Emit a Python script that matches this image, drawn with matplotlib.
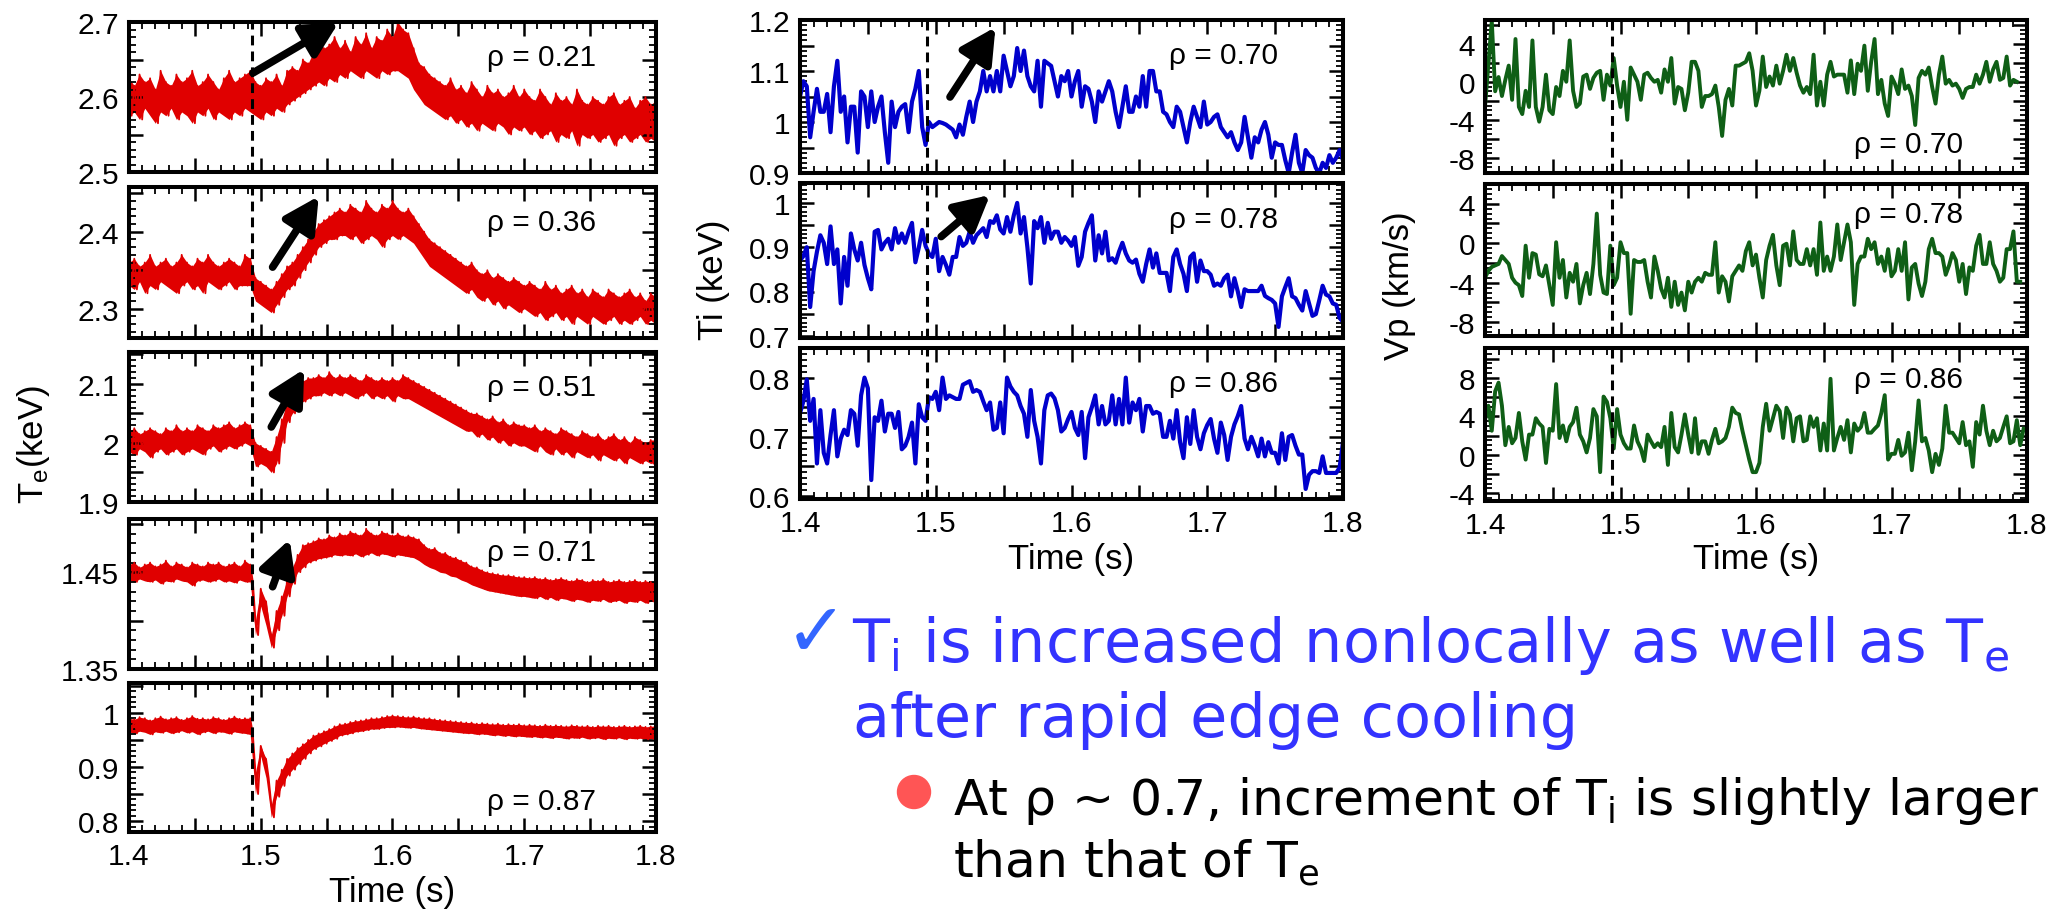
import numpy as np
import matplotlib as mp
mp.use('Agg')
import matplotlib.pyplot as plt
import matplotlib.patches as mpatches
from matplotlib.ticker import MultipleLocator, FuncFormatter, NullFormatter

plt.rcParams['font.family'] = ['Liberation Sans', 'DejaVu Sans']
plt.rcParams['mathtext.default'] = 'regular'

W, H = 2067, 912
T0 = 1.4
DT_RED = 0.004      # sampling of the Te envelopes
DT = 0.0025         # sampling of Ti and Vp
T_SWITCH = 1.4935   # edge cooling time (dashed line)

RED = '#E00000'
BLUE = '#0000CC'
GREEN = '#0F5F16'

# ---------------- Te (upper / lower edges of the noisy band) ----------------
te021_hi = [2.625, 2.615, 2.63, 2.62, 2.625, 2.61, 2.635, 2.62, 2.615, 2.63, 2.62, 2.625, 2.635, 2.615,
            2.62, 2.63, 2.62, 2.61, 2.625, 2.635, 2.62, 2.625, 2.63,
            2.635, 2.62, 2.615, 2.625, 2.62, 2.63, 2.615, 2.635,
            2.64, 2.635, 2.65, 2.645, 2.66,
            2.675, 2.665, 2.67, 2.68, 2.665,
            2.675, 2.66, 2.68, 2.67, 2.685, 2.665, 2.68, 2.675, 2.69, 2.68,
            2.70, 2.69, 2.685,
            2.665, 2.645, 2.64, 2.63,
            2.625, 2.62, 2.615, 2.625, 2.61,
            2.615, 2.605, 2.62, 2.61, 2.6, 2.615, 2.605, 2.61, 2.6, 2.605, 2.615, 2.6, 2.61,
            2.6, 2.595, 2.61, 2.6, 2.59, 2.605, 2.595, 2.6, 2.59, 2.61, 2.595, 2.59, 2.6, 2.595,
            2.59, 2.6, 2.605, 2.59, 2.595, 2.6, 2.585, 2.595, 2.6, 2.59, 2.595]
te021_lo = [2.575, 2.58, 2.57, 2.585, 2.575, 2.565, 2.58, 2.575, 2.585, 2.57, 2.58, 2.575, 2.565, 2.58,
            2.575, 2.585, 2.57, 2.58, 2.575, 2.57, 2.58, 2.575, 2.585,
            2.58, 2.575, 2.57, 2.58, 2.575, 2.585, 2.58, 2.59,
            2.595, 2.6, 2.605, 2.61, 2.615,
            2.62, 2.615, 2.625, 2.62, 2.63,
            2.625, 2.635, 2.63, 2.625, 2.635, 2.63, 2.625, 2.635, 2.63, 2.635,
            2.635, 2.63, 2.625,
            2.61, 2.60, 2.59, 2.585,
            2.58, 2.575, 2.57, 2.575, 2.565,
            2.57, 2.56, 2.565, 2.555, 2.565, 2.56, 2.555, 2.565, 2.56, 2.55, 2.56, 2.555, 2.56,
            2.55, 2.555, 2.545, 2.55, 2.555, 2.54, 2.55, 2.545, 2.555, 2.535, 2.55, 2.545, 2.55, 2.54,
            2.545, 2.55, 2.535, 2.545, 2.55, 2.54, 2.545, 2.55, 2.54, 2.545, 2.54]

te036_hi = [2.36, 2.365, 2.355, 2.36, 2.37, 2.355, 2.36, 2.365, 2.355, 2.36, 2.37, 2.36, 2.355, 2.365,
            2.36, 2.37, 2.36, 2.355, 2.36, 2.365, 2.36, 2.355, 2.37,
            2.365, 2.34, 2.335, 2.33, 2.325, 2.335, 2.345, 2.355,
            2.36, 2.37, 2.38, 2.39, 2.40,
            2.41, 2.415, 2.42, 2.425, 2.43,
            2.425, 2.435, 2.43, 2.425, 2.44, 2.43, 2.425, 2.435, 2.43, 2.44, 2.43, 2.425, 2.43,
            2.42, 2.41, 2.40, 2.39, 2.385, 2.38, 2.375, 2.37, 2.365,
            2.36, 2.355, 2.36, 2.35, 2.345, 2.35, 2.34, 2.345, 2.34, 2.335, 2.34, 2.335, 2.33,
            2.335, 2.33, 2.325, 2.335, 2.325, 2.33, 2.32, 2.325, 2.33, 2.32, 2.325, 2.315, 2.325,
            2.32, 2.315, 2.325, 2.32, 2.315, 2.32, 2.325, 2.315, 2.32, 2.31, 2.32, 2.315]
te036_lo = [2.33, 2.325, 2.335, 2.32, 2.33, 2.325, 2.335, 2.33, 2.325, 2.32, 2.33, 2.335, 2.325, 2.33,
            2.32, 2.335, 2.33, 2.325, 2.33, 2.335, 2.325, 2.33, 2.33,
            2.33, 2.31, 2.305, 2.30, 2.295, 2.305, 2.315, 2.325,
            2.33, 2.34, 2.35, 2.36, 2.37,
            2.38, 2.385, 2.39, 2.39, 2.395,
            2.395, 2.39, 2.395, 2.385, 2.39, 2.395, 2.39, 2.38, 2.39, 2.395, 2.39, 2.395, 2.39,
            2.385, 2.375, 2.365, 2.355, 2.35, 2.345, 2.34, 2.335, 2.33,
            2.325, 2.32, 2.325, 2.315, 2.31, 2.315, 2.305, 2.31, 2.30, 2.305, 2.30, 2.295, 2.30,
            2.295, 2.29, 2.295, 2.285, 2.29, 2.295, 2.285, 2.29, 2.28, 2.29, 2.285, 2.28, 2.29,
            2.285, 2.28, 2.285, 2.29, 2.28, 2.285, 2.28, 2.285, 2.29, 2.28, 2.285, 2.28]

te051_hi = [2.02, 2.025, 2.015, 2.02, 2.025, 2.02, 2.015, 2.025, 2.02, 2.03, 2.02, 2.025, 2.02, 2.03,
            2.025, 2.02, 2.03, 2.025, 2.03, 2.035, 2.025, 2.03, 2.035,
            2.03, 2.0, 1.995, 1.99, 1.985, 2.01, 2.04, 2.07,
            2.085, 2.095, 2.105, 2.11, 2.11,
            2.115, 2.11, 2.12, 2.11, 2.115,
            2.11, 2.115, 2.11, 2.105, 2.115, 2.11, 2.105, 2.11, 2.105, 2.11, 2.105, 2.115, 2.11,
            2.105, 2.1, 2.095, 2.09, 2.085, 2.08, 2.075, 2.07, 2.065,
            2.06, 2.055, 2.05, 2.05, 2.045, 2.04, 2.045, 2.035, 2.04, 2.03, 2.035, 2.03, 2.03,
            2.025, 2.03, 2.02, 2.025, 2.02, 2.015, 2.025, 2.02, 2.015, 2.01, 2.02, 2.015, 2.01,
            2.015, 2.005, 2.01, 2.015, 2.005, 2.01, 2.0, 2.01, 2.005, 2.0, 2.005, 2.005]
te051_lo = [1.985, 1.98, 1.99, 1.985, 1.975, 1.985, 1.99, 1.98, 1.985, 1.99, 1.98, 1.985, 1.99, 1.985,
            1.98, 1.99, 1.995, 1.985, 1.99, 1.995, 1.99, 1.995, 2.0,
            1.995, 1.96, 1.965, 1.96, 1.95, 1.965, 2.0, 2.035,
            2.05, 2.06, 2.07, 2.075, 2.08,
            2.08, 2.085, 2.08, 2.085, 2.08,
            2.085, 2.08, 2.075, 2.08, 2.085, 2.075, 2.08, 2.075, 2.08, 2.07, 2.08, 2.075, 2.075,
            2.07, 2.065, 2.06, 2.055, 2.05, 2.045, 2.04, 2.035, 2.03,
            2.025, 2.02, 2.02, 2.01, 2.015, 2.005, 2.01, 2.0, 2.005, 1.995, 2.0, 1.995, 1.995,
            1.99, 1.985, 1.995, 1.985, 1.98, 1.99, 1.98, 1.985, 1.975, 1.985, 1.98, 1.975, 1.98,
            1.97, 1.98, 1.975, 1.97, 1.975, 1.965, 1.975, 1.97, 1.965, 1.97, 1.965, 1.97]

te071_hi = [1.458, 1.46, 1.455, 1.458, 1.46, 1.456, 1.458, 1.462, 1.456, 1.46, 1.458, 1.455, 1.46, 1.458,
            1.456, 1.46, 1.458, 1.46, 1.456, 1.458, 1.46, 1.456, 1.462,
            1.458, 1.40, 1.433, 1.42, 1.385, 1.41, 1.425, 1.443,
            1.455, 1.468, 1.478, 1.48, 1.482,
            1.485, 1.484, 1.488, 1.486, 1.49,
            1.488, 1.492, 1.49, 1.488, 1.495, 1.49, 1.488, 1.492, 1.49, 1.488, 1.49, 1.487, 1.488,
            1.486, 1.484, 1.478, 1.474, 1.475, 1.47, 1.47, 1.466, 1.465,
            1.462, 1.46, 1.456, 1.455, 1.452, 1.45, 1.449, 1.448, 1.447, 1.447, 1.446, 1.445, 1.445,
            1.444, 1.445, 1.443, 1.444, 1.442, 1.443, 1.444, 1.442, 1.441, 1.443, 1.442, 1.44, 1.442,
            1.441, 1.443, 1.44, 1.441, 1.442, 1.44, 1.441, 1.442, 1.44, 1.441, 1.44, 1.441]
te071_lo = [1.442, 1.44, 1.443, 1.441, 1.44, 1.442, 1.438, 1.441, 1.44, 1.443, 1.441, 1.44, 1.436, 1.441,
            1.442, 1.44, 1.441, 1.443, 1.44, 1.441, 1.439, 1.442, 1.44,
            1.44, 1.385, 1.415, 1.395, 1.372, 1.39, 1.405, 1.425,
            1.438, 1.45, 1.455, 1.46, 1.462,
            1.464, 1.465, 1.466, 1.468, 1.467,
            1.468, 1.467, 1.469, 1.466, 1.468, 1.47, 1.467, 1.469, 1.468, 1.466, 1.468, 1.467, 1.466,
            1.465, 1.462, 1.458, 1.455, 1.453, 1.45, 1.449, 1.446, 1.445,
            1.442, 1.44, 1.437, 1.435, 1.433, 1.431, 1.43, 1.429, 1.428, 1.427, 1.426, 1.425, 1.425,
            1.424, 1.423, 1.425, 1.422, 1.424, 1.421, 1.423, 1.422, 1.42, 1.422, 1.421, 1.419, 1.421,
            1.42, 1.422, 1.419, 1.42, 1.421, 1.418, 1.42, 1.419, 1.421, 1.418, 1.42, 1.419]

te087_hi = [0.99, 0.988, 0.992, 0.99, 0.986, 0.99, 0.993, 0.988, 0.99, 0.992, 0.987, 0.99, 0.994, 0.989,
            0.99, 0.988, 0.992, 0.99, 0.987, 0.99, 0.993, 0.989, 0.99,
            0.99, 0.89, 0.939, 0.915, 0.83, 0.875, 0.895, 0.915,
            0.925, 0.935, 0.942, 0.95, 0.958,
            0.962, 0.966, 0.97, 0.975, 0.979,
            0.98, 0.983, 0.985, 0.986, 0.988, 0.99, 0.99, 0.992, 0.994, 0.995, 0.994, 0.993, 0.992,
            0.993, 0.991, 0.99, 0.99, 0.988, 0.987, 0.986, 0.985, 0.984,
            0.983, 0.982, 0.982, 0.98, 0.981, 0.98, 0.979, 0.98, 0.978, 0.979, 0.978, 0.979, 0.977,
            0.978, 0.977, 0.976, 0.978, 0.976, 0.977, 0.976, 0.975, 0.977, 0.976, 0.975, 0.976, 0.974,
            0.976, 0.975, 0.976, 0.974, 0.975, 0.976, 0.974, 0.975, 0.976, 0.974, 0.975, 0.976]
te087_lo = [0.965, 0.962, 0.966, 0.964, 0.96, 0.965, 0.963, 0.966, 0.962, 0.964, 0.967, 0.963, 0.965, 0.96,
            0.964, 0.966, 0.962, 0.965, 0.964, 0.961, 0.965, 0.963, 0.962,
            0.96, 0.85, 0.92, 0.88, 0.807, 0.845, 0.865, 0.884,
            0.895, 0.905, 0.915, 0.925, 0.933,
            0.938, 0.943, 0.948, 0.952, 0.958,
            0.96, 0.962, 0.965, 0.966, 0.968, 0.97, 0.97, 0.972, 0.973, 0.973, 0.974, 0.973, 0.972,
            0.973, 0.971, 0.97, 0.969, 0.968, 0.967, 0.966, 0.965, 0.964,
            0.963, 0.962, 0.962, 0.96, 0.961, 0.96, 0.958, 0.959, 0.957, 0.958, 0.956, 0.957, 0.956,
            0.955, 0.956, 0.954, 0.955, 0.953, 0.955, 0.954, 0.952, 0.954, 0.953, 0.955, 0.952, 0.953,
            0.954, 0.951, 0.953, 0.952, 0.954, 0.951, 0.953, 0.952, 0.953, 0.951, 0.952, 0.953]

# ---------------- Ti (keV) ----------------
ti070 = [1.05, 1.08, 1.07, 0.97, 1.02, 1.065, 1.02, 1.02, 1.055, 0.98,
         1.07, 1.12, 1.02, 1.05, 0.96, 1.03, 1.03, 0.94, 1.06, 1.05,
         0.99, 1.06, 1.0, 1.03, 1.05, 0.98, 0.92, 1.04, 0.99, 1.02,
         1.03, 1.035, 0.98, 1.04, 1.065, 1.1, 0.99, 0.955, 1.0, 0.99,
         0.995, 1.0, 0.998, 0.995, 0.99, 0.985, 0.97, 0.995, 0.975, 1.01,
         1.04, 1.0, 1.04, 1.06, 1.1, 1.06, 1.09, 1.06, 1.1, 1.06,
         1.13, 1.1, 1.07, 1.09, 1.145, 1.1, 1.14, 1.09, 1.07, 1.06,
         1.12, 1.03, 1.12, 1.115, 1.11, 1.08, 1.05, 1.09, 1.08, 1.10,
         1.05, 1.08, 1.1, 1.03, 1.07, 1.065, 1.04, 1.0, 1.06, 1.04,
         1.06, 1.08, 1.06, 1.02, 0.99, 1.03, 1.07, 1.02, 1.02, 1.05,
         1.03, 1.09, 1.03, 1.1, 1.1, 1.06, 1.06, 1.02, 1.015, 1.0,
         0.99, 1.03, 1.02, 0.99, 0.96, 1.0, 1.03, 1.01, 0.99, 1.04,
         0.995, 1.0, 1.01, 1.015, 0.99, 0.98, 0.97, 0.98, 0.96, 0.945,
         0.96, 1.01, 0.97, 0.93, 0.97, 0.96, 0.985, 1.0, 0.975, 0.93,
         0.96, 0.955, 0.955, 0.925, 0.9, 0.94, 0.975, 0.92, 0.9, 0.945,
         0.935, 0.93, 0.91, 0.9, 0.92, 0.91, 0.935, 0.92, 0.93, 0.945,
         0.925]
ti078 = [0.87, 0.88, 0.90, 0.765, 0.846, 0.89, 0.927, 0.91, 0.862, 0.947,
         0.862, 0.895, 0.773, 0.878, 0.813, 0.931, 0.895, 0.87, 0.91, 0.86,
         0.83, 0.805, 0.935, 0.939, 0.895, 0.91, 0.919, 0.895, 0.943, 0.91,
         0.931, 0.91, 0.935, 0.955, 0.866, 0.899, 0.939, 0.903, 0.885, 0.878,
         0.919, 0.846, 0.878, 0.86, 0.838, 0.878, 0.878, 0.923, 0.903, 0.91,
         0.935, 0.91, 0.927, 0.935, 0.943, 0.923, 0.959, 0.955, 0.972, 0.94,
         0.931, 0.968, 0.935, 0.972, 1.0, 0.931, 0.968, 0.9, 0.818, 0.959,
         0.943, 0.968, 0.91, 0.955, 0.919, 0.935, 0.935, 0.91, 0.923, 0.915,
         0.903, 0.923, 0.858, 0.878, 0.935, 0.955, 0.972, 0.87, 0.927, 0.886,
         0.935, 0.87, 0.875, 0.865, 0.89, 0.91, 0.886, 0.87, 0.865, 0.872,
         0.84, 0.822, 0.862, 0.895, 0.854, 0.886, 0.842, 0.842, 0.842, 0.801,
         0.878, 0.895, 0.862, 0.84, 0.801, 0.878, 0.886, 0.822, 0.87, 0.846,
         0.846, 0.838, 0.813, 0.818, 0.813, 0.83, 0.838, 0.789, 0.83, 0.80,
         0.765, 0.805, 0.801, 0.801, 0.801, 0.801, 0.813, 0.79, 0.785, 0.781,
         0.773, 0.72, 0.789, 0.81, 0.83, 0.789, 0.785, 0.77, 0.757, 0.801,
         0.773, 0.745, 0.749, 0.78, 0.813, 0.793, 0.789, 0.773, 0.77, 0.74,
         0.732]
ti086 = [0.74, 0.76, 0.797, 0.727, 0.764, 0.655, 0.745, 0.673, 0.655, 0.703,
         0.745, 0.667, 0.697, 0.712, 0.703, 0.745, 0.739, 0.685, 0.77, 0.8,
         0.782, 0.627, 0.733, 0.727, 0.761, 0.709, 0.739, 0.739, 0.715, 0.742,
         0.679, 0.685, 0.70, 0.724, 0.655, 0.755, 0.733, 0.727, 0.767, 0.764,
         0.776, 0.745, 0.80, 0.764, 0.77, 0.767, 0.764, 0.764, 0.788, 0.791,
         0.794, 0.776, 0.779, 0.776, 0.76, 0.745, 0.758, 0.712, 0.715, 0.758,
         0.706, 0.80, 0.785, 0.776, 0.77, 0.752, 0.739, 0.70, 0.779, 0.727,
         0.70, 0.655, 0.745, 0.77, 0.773, 0.765, 0.745, 0.709, 0.715, 0.73,
         0.742, 0.715, 0.703, 0.742, 0.664, 0.733, 0.75, 0.77, 0.721, 0.752,
         0.721, 0.727, 0.77, 0.721, 0.764, 0.721, 0.80, 0.724, 0.758, 0.745,
         0.764, 0.709, 0.752, 0.752, 0.739, 0.742, 0.739, 0.70, 0.70, 0.727,
         0.697, 0.745, 0.691, 0.664, 0.733, 0.688, 0.745, 0.70, 0.679, 0.706,
         0.72, 0.73, 0.697, 0.673, 0.724, 0.703, 0.661, 0.70, 0.721, 0.735,
         0.752, 0.697, 0.679, 0.70, 0.685, 0.667, 0.697, 0.667, 0.691, 0.673,
         0.673, 0.655, 0.706, 0.661, 0.70, 0.703, 0.685, 0.67, 0.67, 0.612,
         0.636, 0.642, 0.642, 0.639, 0.667, 0.639, 0.639, 0.639, 0.639, 0.648,
         0.691]

# ---------------- Vp (km/s) ----------------
vp070 = [-2.65, 1.9, 6.4, -1.0, 0.5, -1.5, 0.2, 1.7, -1.9, 4.5,
         -2.65, -3.4, -0.95, -2.65, 4.35, -2.65, -4.2, -2.65, 0.75, -3.0,
         -3.4, -0.55, -1.5, 1.15, 0.0, 4.35, -0.95, -2.65, -2.3, 0.55,
         0.75, -0.75, 0.4, 0.95, 1.15, -1.9, 0.75, -0.4, 2.5, -0.4,
         -2.65, 0.0, -4.0, 1.5, 0.75, 0.0, -1.9, 0.75, 0.95, 0.4,
         0.0, 0.2, -1.15, 1.3, 0.0, 2.5, -2.3, -0.55, -0.75, -3.0,
         -1.15, 2.1, 2.1, 1.15, -2.65, -1.5, -1.5, -1.3, -0.4, -2.65,
         -5.7, -1.9, -0.75, -2.5, 1.7, 1.7, 1.9, 2.1, 3.0, 1.15,
         -2.5, -0.95, 2.65, -0.55, 0.55, -0.4, 1.7, -0.2, 1.15, 2.85,
         1.15, 2.5, 0.95, -0.4, -1.15, -0.55, -1.3, 2.85, -2.5, 0.0,
         -2.5, 0.75, 2.1, 0.55, 0.75, 0.75, 0.75, -1.15, 2.25, -1.3,
         1.9, 1.15, 3.8, -0.95, 2.1, 4.5, -1.3, 0.2, -2.3, -3.6,
         0.55, -0.2, -1.3, 1.3, -0.75, -0.4, -1.5, -4.55, 0.4, 1.15,
         0.75, 1.5, -0.55, -2.3, 0.75, 2.65, -0.2, 0.2, -0.4, -0.2,
         -0.75, -1.7, -0.75, -0.55, -0.55, 0.75, -0.2, 0.75, 2.1, 0.0,
         1.3, 2.1, 0.2, 0.4, 2.65, -0.4, 0.2, 0.0]
vp078 = [-3.5, -2.8, -2.4, -2.25, -2.1, -1.3, -1.7, -2.1, -3.5, -4.0,
         -4.25, -5.35, -0.25, -3.5, -1.0, -1.15, -3.15, -3.35, -2.25, -4.25,
         -6.25, 0.1, -3.5, -1.7, -5.5, -3.0, -3.9, -2.1, -6.1, -4.25,
         -3.0, -5.15, -2.1, 3.0, -3.2, -5.0, -5.15, -0.25, -4.25, -3.5,
         0.1, -1.0, -1.0, -7.15, -1.7, -1.9, -1.9, -1.7, -3.9, -5.5,
         -1.35, -2.8, -4.6, -5.5, -3.5, -6.45, -3.9, -6.25, -5.0, -6.8,
         -3.9, -5.0, -3.9, -3.5, -3.9, -3.0, -3.2, -3.2, 0.1, -5.0,
         -3.35, -3.9, -5.9, -3.35, -2.8, -2.25, -2.8, -0.8, 0.1, -2.25,
         -1.15, -3.5, -5.5, -1.7, -0.25, 0.85, -2.25, -4.25, -0.25, -0.05,
         -2.25, 1.2, -1.7, -2.1, -2.1, -0.6, -2.25, -0.6, -3.2, 2.1,
         -2.8, -1.35, -2.8, -1.35, 1.9, -1.7, 0.1, 1.9, 0.1, -6.25,
         -2.1, -1.35, -1.35, 0.45, -0.6, 0.1, -2.1, -1.35, -2.8, -0.6,
         -3.35, -2.8, -0.6, -2.8, 0.1, -5.7, -2.45, -2.1, -4.1, -5.35,
         -3.9, -0.6, 0.45, -1.0, -1.0, -1.35, -3.2, -2.25, -1.0, -1.7,
         -3.9, -2.1, -5.15, -2.45, -2.8, -0.25, 0.85, -2.1, -2.1, 0.1,
         -2.1, -2.8, -3.9, -3.5, -0.6, -0.6, 1.2, -3.9, -3.9]
vp086 = [3.6, 5.1, 2.5, 6.6, 7.5, 5.1, 1.0, 2.9, 1.2, 1.75,
         4.35, 1.4, -0.5, 2.1, 2.1, 3.8, 3.25, 2.9, -0.85, 2.7,
         2.5, 7.35, 1.75, 3.05, 1.4, 2.9, 3.4, 4.9, 2.1, 1.4,
         0.25, 1.75, 4.75, 4.0, -1.8, 6.05, 5.5, 3.8, 0.65, 4.75,
         2.1, 1.2, 0.65, 0.65, 3.05, 1.4, 0.65, -0.65, 2.1, 1.4,
         0.8, 1.2, 0.8, 2.9, -1.05, 4.35, 0.8, 0.25, 2.1, 4.2,
         2.1, 0.25, 3.8, 0.1, 1.4, 1.4, 0.1, 1.55, 2.7, 1.2,
         1.4, 1.75, 2.9, 4.9, 4.35, 4.2, 2.5, 1.0, -0.5, -1.8,
         -1.8, -0.85, 2.9, 5.3, 2.5, 3.8, 5.1, 4.55, 1.75, 4.9,
         4.2, 1.4, 3.8, 4.0, 1.4, 1.55, 4.0, 2.9, 3.8, 0.45,
         3.25, 0.45, 7.9, 0.45, 1.75, 2.9, 1.55, 3.6, 0.25, 3.25,
         2.5, 2.9, 4.35, 2.3, 2.3, 2.7, 3.05, 4.35, 6.2, -0.5,
         0.1, 0.1, 1.55, -0.1, 0.25, 2.3, -1.6, 1.4, 5.65, 1.4,
         1.75, 0.45, -1.8, 0.1, -1.05, 0.65, 5.1, 2.3, 2.3, 1.75,
         1.2, 3.4, 1.0, 1.4, -1.25, 3.4, 2.1, 5.1, 2.5, 1.0,
         2.5, 1.4, 1.75, 2.9, 4.0, 1.2, 1.4, 3.6, 1.0, 2.7]

te_panels = [(te021_hi, te021_lo, '0.21'), (te036_hi, te036_lo, '0.36'),
             (te051_hi, te051_lo, '0.51'), (te071_hi, te071_lo, '0.71'),
             (te087_hi, te087_lo, '0.87')]
ti_panels = [(ti070, '0.70'), (ti078, '0.78'), (ti086, '0.86')]
vp_panels = [(vp070, '0.70'), (vp078, '0.78'), (vp086, '0.86')]


def times(vals, dt):
    return T0 + dt * np.arange(len(vals))


def step_fmt(step, off):
    def f(v, pos):
        q = (v - off) / step
        if abs(q - round(q)) < 1e-6:
            return '%g' % round(v, 3)
        return ''
    return FuncFormatter(f)


fig = plt.figure(figsize=(W / 100, H / 100), dpi=100)


def add_panel(x0, x1, top, bot):
    return fig.add_axes([x0 / W, 1 - bot / H, (x1 - x0) / W, (bot - top) / H])


def setup(ax, ylim, ymaj, ymin, ystep, yoff, show_x):
    ax.set_xlim(1.4, 1.8)
    ax.set_ylim(*ylim)
    ax.xaxis.set_major_locator(MultipleLocator(0.05))
    ax.xaxis.set_minor_locator(MultipleLocator(0.01))
    ax.yaxis.set_major_locator(MultipleLocator(ymaj))
    ax.yaxis.set_minor_locator(MultipleLocator(ymin))
    ax.xaxis.set_major_formatter(step_fmt(0.1, 0.0) if show_x else NullFormatter())
    ax.yaxis.set_major_formatter(step_fmt(ystep, yoff))
    ax.tick_params(which='both', direction='in', top=True, right=True, labelsize=21.5)
    ax.tick_params(which='major', length=10, width=1.8, pad=7)
    ax.tick_params(which='minor', length=5, width=1.3)
    for s in ax.spines.values():
        s.set_linewidth(2.9)
    ax.axvline(T_SWITCH, color='k', lw=2.2, ls=(0, (3.2, 2.0)), zorder=5)


def arrow(ax, x0, y0, x1, y1):
    ax.annotate('', xy=(x1, y1), xytext=(x0, y0), annotation_clip=False,
                arrowprops=dict(arrowstyle='-|>,head_length=0.95,head_width=0.5',
                                color='k', lw=5.5, shrinkA=0, shrinkB=0,
                                mutation_scale=22), zorder=6)


def rho(ax, x, y, s):
    ax.text(x, y, u'\u03c1 = ' + s, transform=ax.transAxes, fontsize=21.5,
            ha='left', va='center')


# ---- left column: Te ----
te_rects = [(23, 173), (188, 339), (353, 503), (520, 670), (684, 833)]
te_ylims = [(2.5, 2.7), (2.262, 2.458), (1.9, 2.154), (1.35, 1.505), (0.78, 1.055)]
te_yoff = [0.0, 0.0, 0.0, 0.05, 0.0]
te_rho_y = [0.767, 0.767, 0.767, 0.78, 0.21]
te_axes = []
for i, (hi, lo, lab) in enumerate(te_panels):
    ax = add_panel(129, 656, *te_rects[i])
    t = times(hi, DT_RED)
    # solid core of the band, then the noise drawn as a zigzag between the two edges
    ax.fill_between(t, lo, hi, color=RED, lw=0)
    tz = np.column_stack([t, t + DT_RED / 2]).ravel()[:-1]
    yz = np.column_stack([hi, lo]).ravel()[:-1]
    ax.plot(tz, yz, color=RED, lw=1.3)
    setup(ax, te_ylims[i], 0.05, 0.01, 0.1, te_yoff[i], i == 4)
    rho(ax, 0.68, te_rho_y[i], lab)
    te_axes.append(ax)

arrow(te_axes[0], 1.494, 2.632, 1.559, 2.699)
arrow(te_axes[1], 1.509, 2.354, 1.544, 2.446)
arrow(te_axes[2], 1.508, 2.027, 1.533, 2.125)
arrow(te_axes[3], 1.509, 1.435, 1.522, 1.484)

# ---- middle column: Ti ----
ti_rects = [(21, 174), (184, 339), (349, 500)]
ti_ylims = [(0.9, 1.2), (0.695, 1.045), (0.595, 0.85)]
ti_axes = []
for i, (vals, lab) in enumerate(ti_panels):
    ax = add_panel(800, 1343, *ti_rects[i])
    ax.plot(times(vals, DT), vals, color=BLUE, lw=3.0)
    setup(ax, ti_ylims[i], 0.05, 0.01, 0.1, 0.0, i == 2)
    rho(ax, 0.68, 0.77, lab)
    ti_axes.append(ax)

arrow(ti_axes[0], 1.5105, 1.049, 1.544, 1.186)
arrow(ti_axes[1], 1.504, 0.924, 1.540, 1.018)

# ---- right column: Vp ----
vp_rects = [(21, 174), (185, 337), (349, 502)]
vp_ylims = [(-9.6, 6.5), (-9.4, 6.0), (-4.8, 11.1)]
vp_rho_y = [0.19, 0.8, 0.8]
for i, (vals, lab) in enumerate(vp_panels):
    ax = add_panel(1485, 2027, *vp_rects[i])
    ax.plot(times(vals, DT), vals, color=GREEN, lw=2.8)
    setup(ax, vp_ylims[i], 2, 0.5, 4, 0, i == 2)
    rho(ax, 0.68, vp_rho_y[i], lab)

# ---- axis titles ----
fig.text(33 / W, 1 - 445 / H, 'T$_e$(keV)', rotation=90, fontsize=25, ha='center', va='center')
fig.text(714 / W, 1 - 280 / H, 'Ti (keV)', rotation=90, fontsize=25, ha='center', va='center')
fig.text(1399 / W, 1 - 286 / H, 'Vp (km/s)', rotation=90, fontsize=25, ha='center', va='center')
fig.text(392 / W, 1 - 893 / H, 'Time (s)', fontsize=25, ha='center', va='center')
fig.text(1071 / W, 1 - 560 / H, 'Time (s)', fontsize=25, ha='center', va='center')
fig.text(1756 / W, 1 - 560 / H, 'Time (s)', fontsize=25, ha='center', va='center')

# ---- bullet text ----
fig.text(785 / W, 1 - 655 / H, u'\u2713', fontsize=54, color='#3366FF',
         family='DejaVu Sans', ha='left', va='baseline')
fig.text(852 / W, 1 - 662 / H, 'T$_i$ is increased nonlocally as well as T$_e$',
         fontsize=43.6, color='#3333FF', family='DejaVu Sans', ha='left', va='baseline')
fig.text(853 / W, 1 - 737 / H, 'after rapid edge cooling',
         fontsize=43.6, color='#3333FF', family='DejaVu Sans', ha='left', va='baseline')
fig.patches.append(mpatches.Ellipse((914 / W, 1 - 793 / H), 33 / W, 33 / H,
                                    transform=fig.transFigure, color='#FF5555'))
fig.text(953 / W, 1 - 815 / H, u'At \u03c1 ~ 0.7, increment of T$_i$ is slightly larger',
         fontsize=36.3, color='k', family='DejaVu Sans', ha='left', va='baseline')
fig.text(953 / W, 1 - 877 / H, 'than that of T$_e$',
         fontsize=36.3, color='k', family='DejaVu Sans', ha='left', va='baseline')

plt.savefig('out.png', dpi=100)
